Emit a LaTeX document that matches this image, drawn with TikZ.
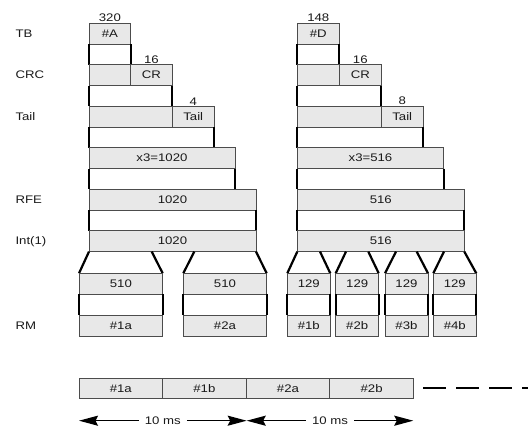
\documentclass[tikz,border=0pt]{standalone}
\usepackage{fontspec}
\setmainfont{Liberation Sans}[FakeStretch=1.2]
\usetikzlibrary{arrows.meta}

\begin{document}
\begin{tikzpicture}[x=1pt,y=-1pt,>={Stealth[length=19pt,width=10pt,inset=2.5pt]},
  font=\fontsize{11}{13}\selectfont,
  every node/.style={text=black!90},
  blk/.style={draw=black!70,fill=black!9,line width=0.8pt},
  side/.style={line width=2.2pt},
  lbl/.style={anchor=west},
  bits/.style={above,inner sep=1pt}]
 \useasboundingbox (0,0) rectangle (528,427);
 % row labels
 \node[lbl] (lTB) at (12,33.7) {TB};
 \node[lbl] (lCRC) at (12,75.2) {CRC};
 \node[lbl] (lTail) at (12,116.7) {Tail};
 \node[lbl] (lRFE) at (12,199.7) {RFE};
 \node[lbl] (lInt) at (12,241.2) {Int(1)};
 \node[lbl] (lRM) at (12,325.9) {RM};
 % left column, block A
 \draw[blk] (89,23.3) rectangle (130.7,44.1);
 \node (tbA) at (109.9,33.7) {\#A};
 \node[bits] (nA) at (109.9,23.3) {320};
 \draw[side] (89,44.1) -- (89,64.8) (130.7,44.1) -- (130.7,64.8);
 \draw[blk] (89,64.8) rectangle (130.7,85.6);
 \draw[blk] (130.7,64.8) rectangle (172.3,85.6);
 \node (crA) at (151.5,75.2) {CR};
 \node[bits] (ncA) at (151.5,64.8) {16};
 \draw[side] (89,85.6) -- (89,106.3) (172.3,85.6) -- (172.3,106.3);
 \draw[blk] (89,106.3) rectangle (172.3,127.1);
 \draw[blk] (172.3,106.3) rectangle (214,127.1);
 \node (tlA) at (193.2,116.7) {Tail};
 \node[bits] (ntA) at (193.2,106.3) {4};
 \draw[side] (89,127.1) -- (89,147.8) (214,127.1) -- (214,147.8);
 \draw[blk] (89,147.8) rectangle (235,168.6);
 \node (cdA) at (162,158.2) {x3=1020};
 \draw[side] (89,168.6) -- (89,189.3) (235,168.6) -- (235,189.3);
 \draw[blk] (89,189.3) rectangle (256,210.1);
 \node (rfA) at (172.5,199.7) {1020};
 \draw[side] (89,210.1) -- (89,230.8) (256,210.1) -- (256,230.8);
 \draw[blk] (89,230.8) rectangle (256,251.6);
 \node (inA) at (172.5,241.2) {1020};
 % split into two
 \draw[side] (89,251.6) -- (79,273.3) (151.7,251.6) -- (162.7,273.3);
 \draw[side] (194.3,251.6) -- (183.3,273.3) (256,251.6) -- (266.7,273.3);
 \draw[blk] (79,273.3) rectangle (162.7,294);
 \node (sA1) at (120.9,283.7) {510};
 \draw[side] (79,294) -- (79,315) (162.7,294) -- (162.7,315);
 \draw[blk] (79,315) rectangle (162.7,336.7);
 \node (rm1a) at (120.9,325.9) {\#1a};
 \draw[blk] (183.3,273.3) rectangle (266.7,294);
 \node (sA2) at (225,283.7) {510};
 \draw[side] (183.3,294) -- (183.3,315) (266.7,294) -- (266.7,315);
 \draw[blk] (183.3,315) rectangle (266.7,336.7);
 \node (rm2a) at (225,325.9) {\#2a};
 % right column, block D
 \draw[blk] (297.3,23.3) rectangle (339.3,44.1);
 \node (tbD) at (318.3,33.7) {\#D};
 \node[bits] (nD) at (318.3,23.3) {148};
 \draw[side] (297.3,44.1) -- (297.3,64.8) (339.3,44.1) -- (339.3,64.8);
 \draw[blk] (297.3,64.8) rectangle (339.3,85.6);
 \draw[blk] (339.3,64.8) rectangle (381.3,85.6);
 \node (crD) at (360.3,75.2) {CR};
 \node[bits] (ncD) at (360.3,64.8) {16};
 \draw[side] (297.3,85.6) -- (297.3,106.3) (381.3,85.6) -- (381.3,106.3);
 \draw[blk] (297.3,106.3) rectangle (381.3,127.1);
 \draw[blk] (381.3,106.3) rectangle (423,127.1);
 \node (tlD) at (402.2,116.7) {Tail};
 \node[bits] (ntD) at (402.2,106.3) {8};
 \draw[side] (297.3,127.1) -- (297.3,147.8) (423,127.1) -- (423,147.8);
 \draw[blk] (297.3,147.8) rectangle (443.7,168.6);
 \node (cdD) at (370.5,158.2) {x3=516};
 \draw[side] (297.3,168.6) -- (297.3,189.3) (443.7,168.6) -- (443.7,189.3);
 \draw[blk] (297.3,189.3) rectangle (464.3,210.1);
 \node (rfD) at (380.8,199.7) {516};
 \draw[side] (297.3,210.1) -- (297.3,230.8) (464.3,210.1) -- (464.3,230.8);
 \draw[blk] (297.3,230.8) rectangle (464.3,251.6);
 \node (inD) at (380.8,241.2) {516};
 % split into four
 \foreach \l/\t/\u/\n in {287.3/297.3/320/1b,335.7/346/368.3/2b,
                          385/396/416.7/3b,433.3/444/464.3/4b}{
   \draw[side] (\t,251.6) -- (\l,273.3) (\u,251.6) -- (\l+43,273.3);
   \draw[blk] (\l,273.3) rectangle (\l+43,294);
   \node (s\n) at (\l+21.5,283.7) {129};
   \draw[side] (\l,294) -- (\l,315) (\l+43,294) -- (\l+43,315);
   \draw[blk] (\l,315) rectangle (\l+43,336.7);
   \node (rm\n) at (\l+21.5,325.9) {\#\n};
 }
 % transmitted sequence
 \foreach \x/\n in {79/1a,162.6/1b,246.2/2a,329.8/2b}{
   \draw[blk] (\x,378.3) rectangle (\x+83.6,398.3);
   \node (tx\n) at (\x+41.8,388.3) {\#\n};
 }
 \draw[line width=2pt,dash pattern=on 23pt off 10pt] (423,388.3) -- (528,388.3);
 % timing
 \coordinate (t0) at (79,420.7);
 \coordinate (t1) at (246.7,420.7);
 \coordinate (t2) at (413.3,420.7);
 \node[inner xsep=6pt] (ms1) at (162.8,420.7) {10 ms};
 \node[inner xsep=6pt] (ms2) at (330,420.7) {10 ms};
 \draw[->,line width=1.6pt] (ms1.west) -- (t0);
 \draw[->,line width=1.6pt] (ms1.east) -- (t1);
 \draw[->,line width=1.6pt] (ms2.west) -- (t1);
 \draw[->,line width=1.6pt] (ms2.east) -- (t2);
\end{tikzpicture}
\end{document}
